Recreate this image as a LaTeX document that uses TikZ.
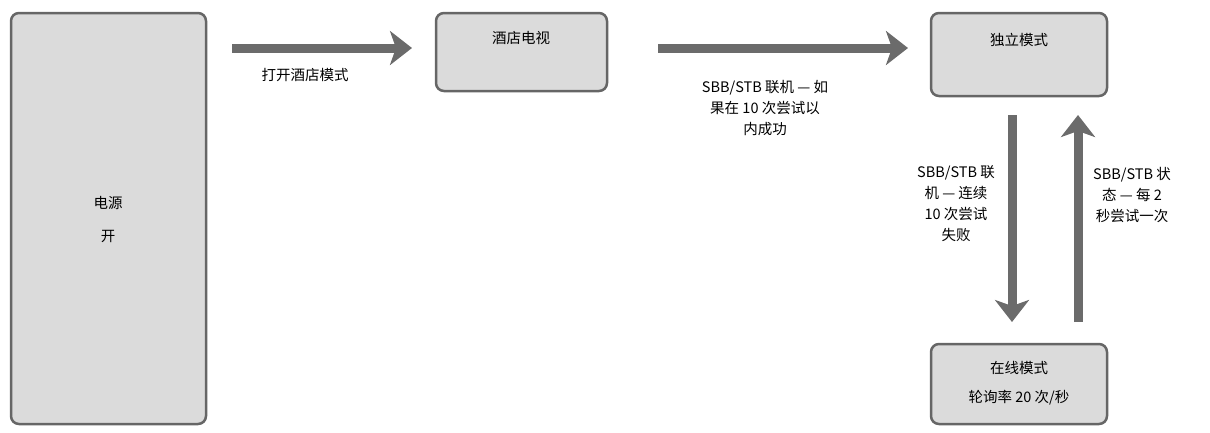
\documentclass[tikz,border=0pt]{standalone}
\usepackage{fontspec}
\setmainfont{Noto Sans CJK SC}
\usetikzlibrary{arrows.meta}
\tikzset{
  box/.style={draw=black!60, line width=2.5pt, fill=black!14, rounded corners=8pt},
  flow/.style={draw=black!58, line width=9pt, -{Stealth[length=22pt,width=34pt,inset=6pt]}},
  lbl/.style={font=\fontsize{14.5}{21}\selectfont, align=center}
}
\begin{document}
\begin{tikzpicture}[x=1pt,y=-1pt]
  \useasboundingbox (0,0) rectangle (1210,432);
  % boxes
  \draw[box] (11,13) rectangle (206,424);
  \node[lbl] (power) at (108,220) {电源\\[12pt]开};
  \draw[box] (436,13) rectangle (607,91);
  \node[lbl] (hotel) at (521,38) {酒店电视};
  \draw[box] (931,13) rectangle (1107,96);
  \node[lbl] (alone) at (1019,40) {独立模式};
  \draw[box] (931,344) rectangle (1107,424);
  \node[lbl] (online) at (1019,383) {在线模式\\[8pt]轮询率 20 次/秒};
  % connectors
  \coordinate (a1) at (232,48); \coordinate (a2) at (412,48);
  \coordinate (b1) at (658,48); \coordinate (b2) at (908,48);
  \coordinate (c1) at (1012,115); \coordinate (c2) at (1012,322);
  \coordinate (d1) at (1078,322); \coordinate (d2) at (1078,115);
  \draw[flow] (a1) -- (a2);
  \draw[flow] (b1) -- (b2);
  \draw[flow] (c1) -- (c2);
  \draw[flow] (d1) -- (d2);
  % labels
  \node[lbl] (l1) at (305,75) {打开酒店模式};
  \node[lbl] (l2) at (765,108) {SBB/STB 联机 — 如\\果在 10 次尝试以\\内成功};
  \node[lbl] (l3) at (956,204) {SBB/STB 联\\机 — 连续\\10 次尝试\\失败};
  \node[lbl] (l4) at (1132,195) {SBB/STB 状\\态 — 每 2\\秒尝试一次};
\end{tikzpicture}
\end{document}
